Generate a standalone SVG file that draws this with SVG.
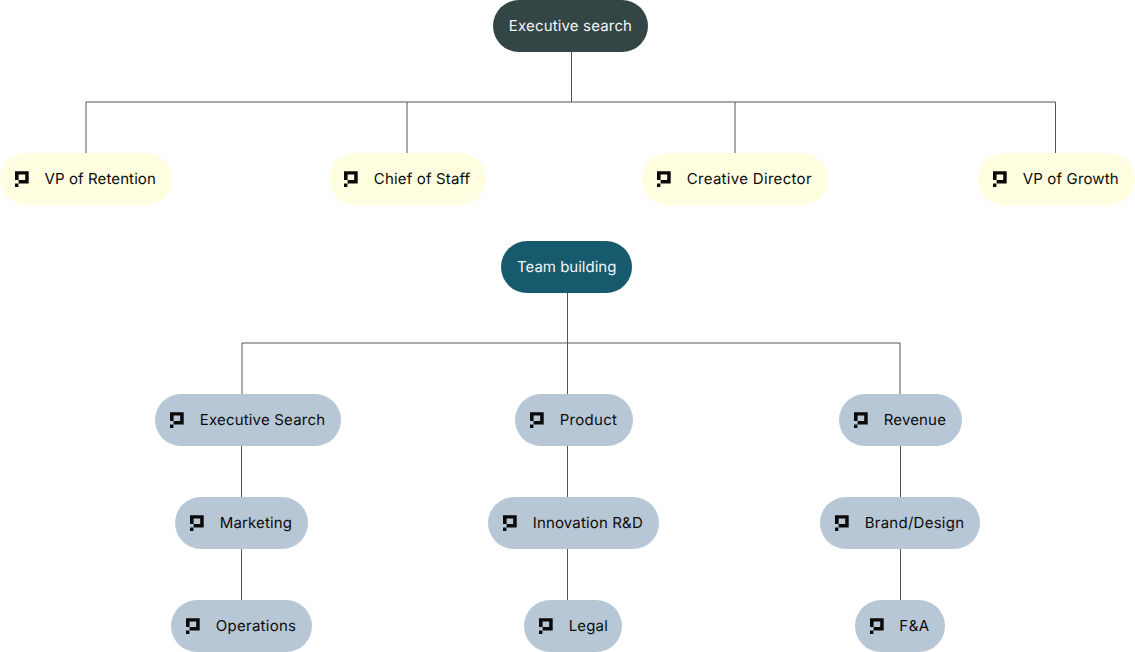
<svg xmlns="http://www.w3.org/2000/svg" width="1135" height="652" viewBox="0 0 1135 652">
<style>
text{font-family:Inter,"Liberation Sans",sans-serif;font-size:15px;letter-spacing:.16px;fill:#0b0b0b;text-rendering:geometricPrecision}
.w{fill:#f4f6f6}
.y{fill:#fffee0}.b{fill:#b8c7d6}
#connectors path{fill:none;stroke:#555;stroke-width:1}
</style>
<defs>
<g id="i"><path fill="#0a0a0a" d="M0 .2H13.700V12.400H3.600V9H10.200V3.500H3.600V9H0ZM0 12.400H3.400V16H0Z"/></g>
</defs>
<g id="connectors">
<path d="M571.500 52V102M86 153V102H1055.500V153M407 102V153M735 102V153"/>
<path d="M567.500 293V394M242 394V343H900V394M241.500 446V497M241.500 549V600M567.500 446V497M567.500 549V600M900.500 446V497M900.500 549V600"/>
</g>
<g id="n-exec"><rect x="493" y="0" width="155" height="52" rx="26" fill="#344545"/><text class="w" x="570.500" y="30.500" text-anchor="middle">Executive search</text></g>
<g id="n-retention"><rect class="y" x="0" y="153" width="172" height="52" rx="26"/><use href="#i" x="15" y="171"/><text x="44.500" y="183.500" textLength="111.500">VP of Retention</text></g>
<g id="n-chief"><rect class="y" x="329" y="153" width="157" height="52" rx="26"/><use href="#i" x="344" y="171"/><text x="373.800" y="183.500">Chief of Staff</text></g>
<g id="n-creative"><rect class="y" x="642" y="153" width="186" height="52" rx="26"/><use href="#i" x="657" y="171"/><text x="686.700" y="183.500" textLength="125">Creative Director</text></g>
<g id="n-growth"><rect class="y" x="978" y="153" width="157" height="52" rx="26"/><use href="#i" x="993" y="171"/><text x="1022.700" y="183.500">VP of Growth</text></g>
<g id="n-team"><rect x="501" y="241" width="131" height="52" rx="26" fill="#185a6d"/><text class="w" x="517" y="271.500" textLength="99.500">Team building</text></g>
<g id="n-search"><rect class="b" x="155" y="394" width="186" height="52" rx="26"/><use href="#i" x="170" y="412"/><text x="199.700" y="424.500" textLength="125.500">Executive Search</text></g>
<g id="n-product"><rect class="b" x="515" y="394" width="118" height="52" rx="26"/><use href="#i" x="530" y="412"/><text x="559.700" y="424.500" textLength="57.500">Product</text></g>
<g id="n-revenue"><rect class="b" x="839" y="394" width="123" height="52" rx="26"/><use href="#i" x="854" y="412"/><text x="883.700" y="424.500">Revenue</text></g>
<g id="n-marketing"><rect class="b" x="175" y="497" width="133" height="52" rx="26"/><use href="#i" x="190" y="515"/><text x="219.700" y="527.500">Marketing</text></g>
<g id="n-innovation"><rect class="b" x="488" y="497" width="171" height="52" rx="26"/><use href="#i" x="503" y="515"/><text x="532.700" y="527.500">Innovation R&amp;D</text></g>
<g id="n-brand"><rect class="b" x="820" y="497" width="160" height="52" rx="26"/><use href="#i" x="835" y="515"/><text x="864.700" y="527.500" textLength="99.500">Brand/Design</text></g>
<g id="n-operations"><rect class="b" x="171" y="600" width="141" height="52" rx="26"/><use href="#i" x="186" y="618"/><text x="215.700" y="630.500" textLength="80.500">Operations</text></g>
<g id="n-legal"><rect class="b" x="524" y="600" width="98" height="52" rx="26"/><use href="#i" x="539" y="618"/><text x="568.700" y="630.500">Legal</text></g>
<g id="n-fa"><rect class="b" x="855" y="600" width="90" height="52" rx="26"/><use href="#i" x="870" y="618"/><text x="899.300" y="630.500" textLength="30">F&amp;A</text></g>
</svg>
